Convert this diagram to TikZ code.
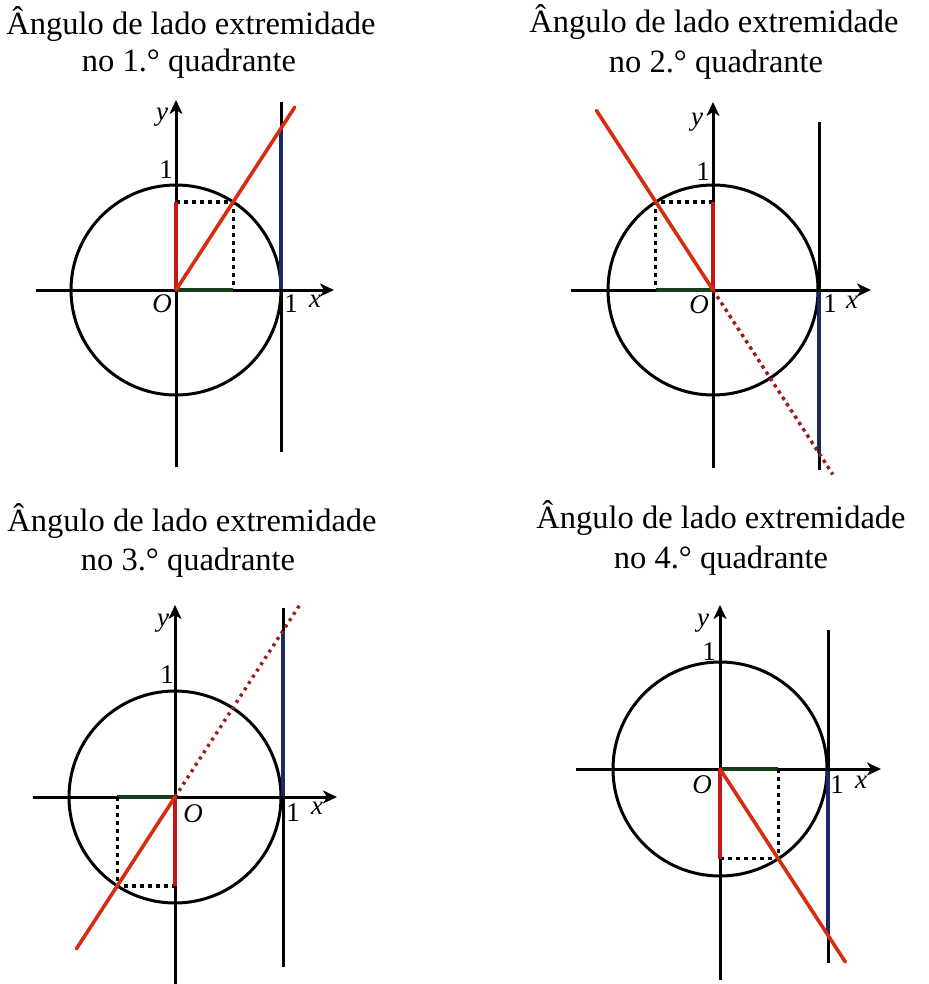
\documentclass[tikz,border=0pt]{standalone}
\usepackage{fontspec}
\setmainfont{Liberation Serif}
\usetikzlibrary{arrows.meta}
\definecolor{termred}{RGB}{214,45,18}
\definecolor{sinred}{RGB}{200,22,22}
\definecolor{extred}{RGB}{150,32,22}
\definecolor{tanblue}{RGB}{28,38,105}
\definecolor{cosgreen}{RGB}{22,62,28}
\begin{document}
\begin{tikzpicture}[x=1pt,y=1pt,
  axis/.style={line width=3pt,black,-{Stealth[length=14pt,width=13pt,inset=4pt]}},
  plainline/.style={line width=3pt,black},
  unitcircle/.style={line width=3pt,black},
  termside/.style={line width=3.6pt,termred,line cap=round},
  extside/.style={line width=3.4pt,extred,dash pattern=on 3.5pt off 4pt},
  sinseg/.style={line width=3.6pt,sinred},
  cosseg/.style={line width=3.4pt,cosgreen},
  tanseg/.style={line width=3.6pt,tanblue},
  proj/.style={line width=3.2pt,black,dash pattern=on 4pt off 4pt},
  lbl/.style={inner sep=0pt,font=\fontsize{27}{30}\selectfont},
  ttl/.style={inner sep=0pt,anchor=base,font=\fontsize{32.5}{37}\selectfont}]
\useasboundingbox (0,0) rectangle (928,-984);

% ---------- titles ----------
\node[ttl] (t1a) at (191,-35) {Ângulo de lado extremidade};
\node[ttl] (t1b) at (189,-72) {no 1.° quadrante};
\node[ttl] (t2a) at (714,-33) {Ângulo de lado extremidade};
\node[ttl] (t2b) at (716,-73) {no 2.° quadrante};
\node[ttl] (t3a) at (192,-531) {Ângulo de lado extremidade};
\node[ttl] (t3b) at (188,-570) {no 3.° quadrante};
\node[ttl] (t4a) at (721,-528) {Ângulo de lado extremidade};
\node[ttl] (t4b) at (721,-568) {no 4.° quadrante};

% ---------- panel 1 ----------
\begin{scope}[shift={(176,-290)}]
  \coordinate (O1) at (0,0);
  \coordinate (xl1) at (-140,0); \coordinate (xr1) at (158,0);
  \coordinate (yb1) at (0,-177); \coordinate (yt1) at (0,190);
  \coordinate (tb1) at (105,-162); \coordinate (tt1) at (105,188);
  \coordinate (A1) at (105,0);
  \coordinate (P1) at (57:105);
  \coordinate (S1) at (0,{105*sin(57)});
  \coordinate (C1) at ({105*cos(57)},0);
  \coordinate (T1) at (105,{105*tan(57)});
  \coordinate (E1) at (57:218);
  \draw[unitcircle] (O1) circle (105);
  \draw[plainline] (tb1) -- (tt1);
  \draw[tanseg] (A1) -- (T1);
  \draw[axis] (xl1) -- (xr1);
  \draw[axis] (yb1) -- (yt1);
  \draw[cosseg] (O1) -- (C1);
  \draw[proj] (S1) -- (P1) -- (C1);
  \draw[sinseg] (O1) -- (S1);
  \draw[termside] (O1) -- (E1);
  \node[lbl] (ly1) at (-14,173) {\itshape y};
  \node[lbl] (lu1) at (-10,120) {1};
  \node[lbl] (lo1) at (-14,-14) {\itshape O};
  \node[lbl] (lx11) at (115,-14) {1};
  \node[lbl] (lx1) at (139,-11) {\itshape x};
\end{scope}

% ---------- panel 2 ----------
\begin{scope}[shift={(713,-290)}]
  \coordinate (O2) at (0,0);
  \coordinate (xl2) at (-142,0); \coordinate (xr2) at (158,0);
  \coordinate (yb2) at (0,-178); \coordinate (yt2) at (0,188);
  \coordinate (tb2) at (106,-180); \coordinate (tt2) at (106,168);
  \coordinate (A2) at (106,0);
  \coordinate (P2) at (123:105);
  \coordinate (S2) at (0,{105*sin(123)});
  \coordinate (C2) at ({105*cos(123)},0);
  \coordinate (T2) at (106,{-106*tan(57)});
  \coordinate (E2) at (123:214);
  \coordinate (F2) at (-57:220);
  \draw[unitcircle] (O2) circle (105);
  \draw[plainline] (tb2) -- (tt2);
  \draw[tanseg] (A2) -- (T2);
  \draw[axis] (xl2) -- (xr2);
  \draw[axis] (yb2) -- (yt2);
  \draw[cosseg] (C2) -- (O2);
  \draw[proj] (S2) -- (P2) -- (C2);
  \draw[sinseg] (O2) -- (S2);
  \draw[extside] (O2) -- (F2);
  \draw[termside] (O2) -- (E2);
  \node[lbl] (ly2) at (-16,168) {\itshape y};
  \node[lbl] (lu2) at (-10,118) {1};
  \node[lbl] (lo2) at (-14,-15) {\itshape O};
  \node[lbl] (lx12) at (117,-14) {1};
  \node[lbl] (lx2) at (139,-12) {\itshape x};
\end{scope}

% ---------- panel 3 ----------
\begin{scope}[shift={(175,-797)}]
  \coordinate (O3) at (0,0);
  \coordinate (xl3) at (-142,0); \coordinate (xr3) at (162,0);
  \coordinate (yb3) at (0,-187); \coordinate (yt3) at (0,192);
  \coordinate (tb3) at (108,-170); \coordinate (tt3) at (108,189);
  \coordinate (A3) at (108,0);
  \coordinate (P3) at (237:106);
  \coordinate (S3) at (0,{106*sin(237)});
  \coordinate (C3) at ({106*cos(237)},0);
  \coordinate (T3) at (108,{108*tan(57)});
  \coordinate (E3) at (237:181);
  \coordinate (F3) at (57:231);
  \draw[unitcircle] (O3) circle (106);
  \draw[plainline] (tb3) -- (tt3);
  \draw[tanseg] (A3) -- (T3);
  \draw[axis] (xl3) -- (xr3);
  \draw[axis] (yb3) -- (yt3);
  \draw[cosseg] (C3) -- (O3);
  \draw[proj] (C3) -- (P3) -- (S3);
  \draw[sinseg] (O3) -- (S3);
  \draw[extside,dash pattern=on 3pt off 4.5pt] (O3) -- (F3);
  \draw[termside] (O3) -- (E3);
  \node[lbl] (ly3) at (-12,174) {\itshape y};
  \node[lbl] (lu3) at (-8,122) {1};
  \node[lbl] (lo3) at (18,-17) {\itshape O};
  \node[lbl] (lx13) at (118,-16) {1};
  \node[lbl] (lx3) at (142,-11) {\itshape x};
\end{scope}

% ---------- panel 4 ----------
\begin{scope}[shift={(720,-769)}]
  \coordinate (O4) at (0,0);
  \coordinate (xl4) at (-144,0); \coordinate (xr4) at (161,0);
  \coordinate (yb4) at (0,-211); \coordinate (yt4) at (0,164);
  \coordinate (tb4) at (108,-194); \coordinate (tt4) at (108,139);
  \coordinate (A4) at (108,0);
  \coordinate (P4) at (-57:107);
  \coordinate (S4) at (0,{107*sin(-57)});
  \coordinate (C4) at ({107*cos(-57)},0);
  \coordinate (T4) at (108,{-108*tan(57)});
  \coordinate (E4) at (-57:230);
  \draw[unitcircle] (O4) circle (107);
  \draw[plainline] (tb4) -- (tt4);
  \draw[tanseg] (A4) -- (T4);
  \draw[axis] (xl4) -- (xr4);
  \draw[axis] (yb4) -- (yt4);
  \draw[cosseg] (O4) -- (C4);
  \draw[proj] (C4) -- (P4) -- (S4);
  \draw[sinseg] (O4) -- (S4);
  \draw[termside] (O4) -- (E4);
  \node[lbl] (ly4) at (-17,146) {\itshape y};
  \node[lbl] (lu4) at (-11,117) {1};
  \node[lbl] (lo4) at (-18,-16) {\itshape O};
  \node[lbl] (lx14) at (117,-16) {1};
  \node[lbl] (lx4) at (141,-13) {\itshape x};
\end{scope}
\end{tikzpicture}
\end{document}
